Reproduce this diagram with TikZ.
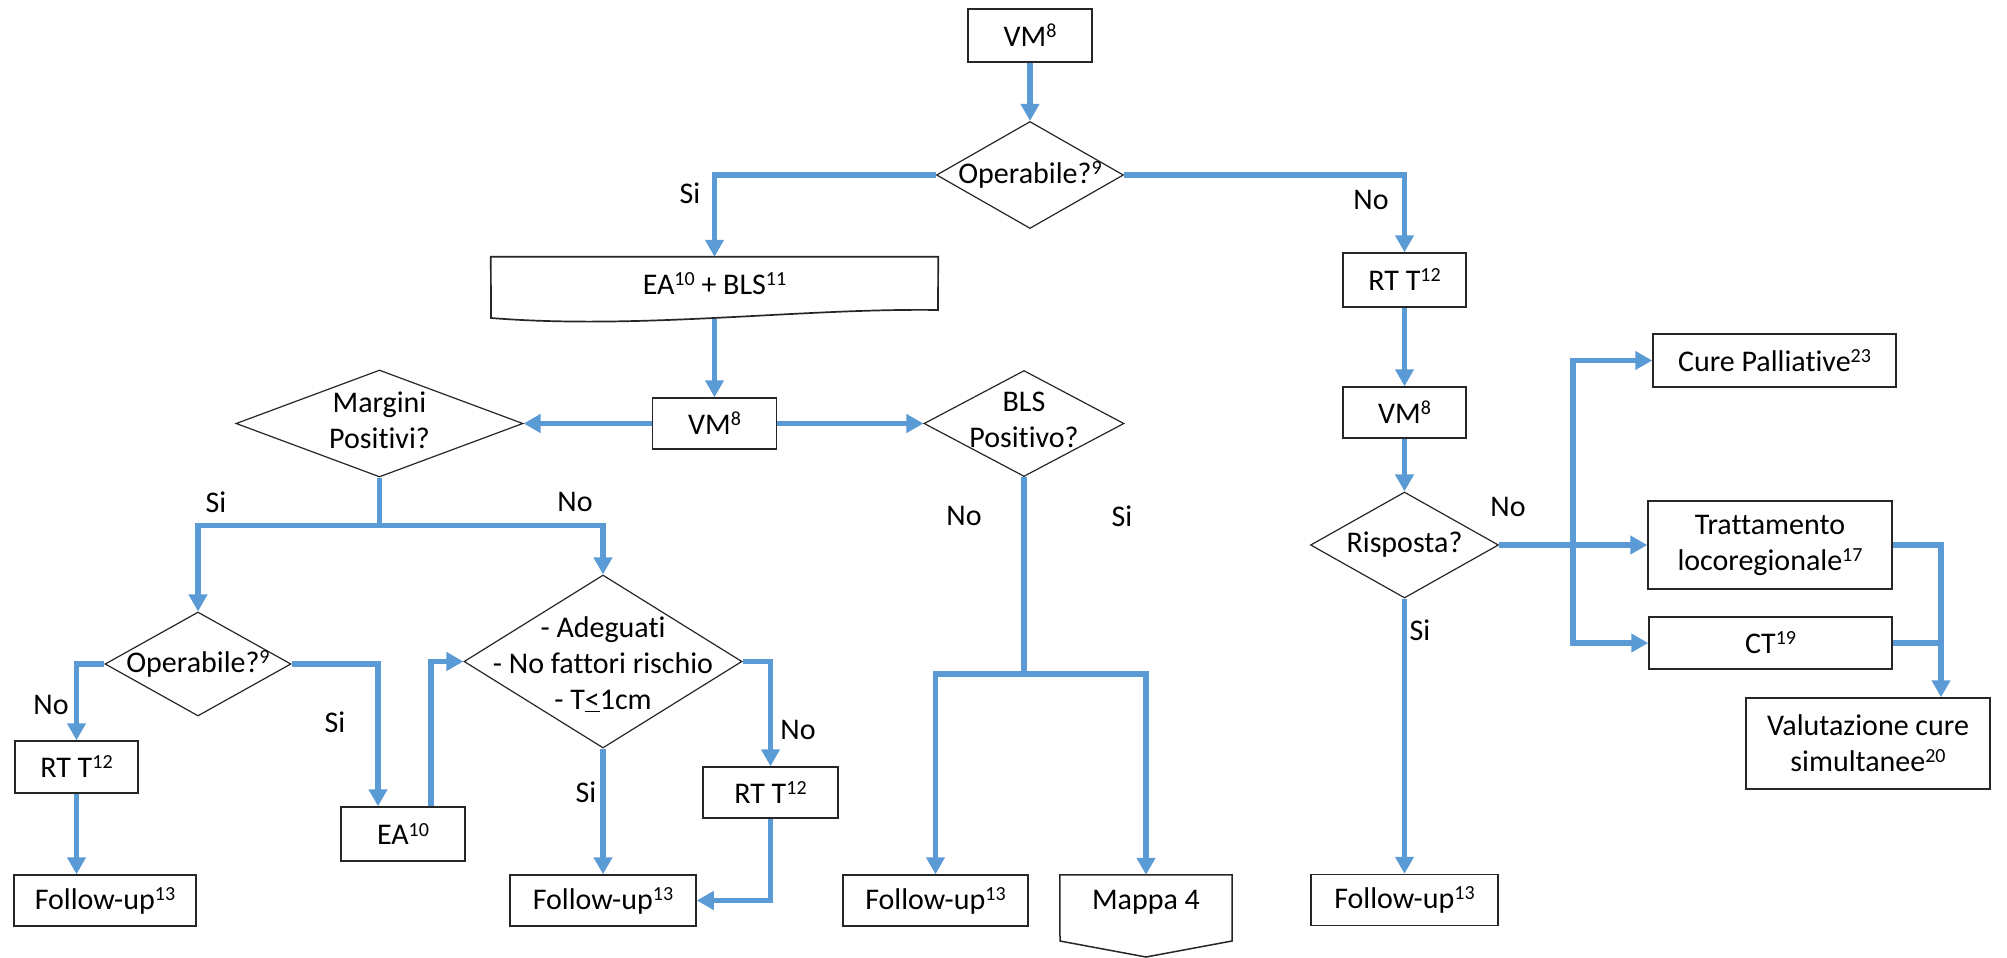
\documentclass[tikz,border=0pt]{standalone}
\usepackage{fontspec}
\setmainfont{Carlito}[RawFeature={-liga;-dlig;-calt;-clig}]
\usetikzlibrary{shapes.geometric,arrows.meta}
\definecolor{flowblue}{RGB}{91,155,213}
% raised note numbers after the step names
\newcommand\sps[1]{\raisebox{9pt}{\fontsize{20}{20}\selectfont #1}}

\begin{document}
\begin{tikzpicture}[x=1pt,y=-1pt,
  every node/.style={font=\fontsize{30}{36}\selectfont, inner sep=0pt, align=center},
  box/.style={draw=black!85, line width=1.5pt, rectangle},
  dec/.style={draw=black!85, line width=1.2pt, diamond},
  conn/.style={draw=flowblue, line width=5.5pt},
  arr/.style={conn, -{Triangle[length=17pt,width=18pt]}}]

\path[use as bounding box, fill=white] (0,0) rectangle (2007,958);

% ---------- top: first visit and operability ----------
\node[box, minimum width=124, minimum height=53] (vm1) at (1030,35.5) {VM\sps{8}};
\node[dec, minimum width=187, minimum height=107] (op1) at (1030,175) {};
\node at (op1) {Operabile?\sps{9}};

% surgery + biopsy (document shape)
\node[minimum width=447, minimum height=53] (ea) at (714.5,283.5) {EA\sps{10} + BLS\sps{11}};
\draw[draw=black!85, line width=1.7pt] (ea.north west) -- (ea.north east) -- (938,310)
  .. controls (800,308) and (640,330) .. (491,318) -- cycle;
\coordinate (eab) at (714.5,319);

% ---------- middle-left branch ----------
\node[box, minimum width=124, minimum height=51] (vm2) at (714.5,423.5) {VM\sps{8}};
\node[dec, minimum width=287, minimum height=107] (marg) at (379.5,423.5) {};
\node at (379.5,420) {Margini\\Positivi?};
\node[dec, minimum width=200, minimum height=106] (bls) at (1024,423.5) {};
\node at (1024,420) {BLS\\Positivo?};

\node[dec, minimum width=186, minimum height=104] (op2) at (198,664) {};
\node at (op2) {Operabile?\sps{9}};
\node[box, minimum width=123, minimum height=52] (rt2) at (76.5,767) {RT T\sps{12}};
\node[box, minimum width=182, minimum height=51] (fu1) at (105,900.5) {Follow-up\sps{13}};
\node[box, minimum width=124, minimum height=54] (ea2) at (403,834) {EA\sps{10}};

\node[dec, minimum width=278, minimum height=173] (adeg) at (603,661.5) {};
\node at (603,664) {- Adeguati\\- No fattori rischio\\- T\underline{<}1cm};
\node[box, minimum width=135, minimum height=51] (rt3) at (770.5,792.5) {RT T\sps{12}};
\node[box, minimum width=186, minimum height=51] (fu2) at (603,900.5) {Follow-up\sps{13}};

\node[box, minimum width=185, minimum height=51] (fu3) at (935.5,900.5) {Follow-up\sps{13}};
\node[minimum width=172, minimum height=54] (mappa) at (1146,902) {Mappa 4};
\draw[draw=black!85, line width=1.5pt] (mappa.north west) -- (mappa.north east)
  -- (1232,941) -- (1146,957) -- (1060,941) -- cycle;

% ---------- right branch: not operable ----------
\node[box, minimum width=123, minimum height=54] (rt1) at (1404.5,280) {RT T\sps{12}};
\node[box, minimum width=123, minimum height=51] (vm3) at (1404.5,412.5) {VM\sps{8}};
\node[dec, minimum width=188, minimum height=106] (risp) at (1404.5,545) {};
\node at (risp) {Risposta?};
\node[box, minimum width=187, minimum height=51] (fu4) at (1404.5,900) {Follow-up\sps{13}};

\node[box, minimum width=243, minimum height=53] (cp) at (1774.5,360.5) {Cure Palliative\sps{23}};
\node[box, minimum width=244, minimum height=88] (trat) at (1770,545) {Trattamento\\locoregionale\sps{17}};
\node[box, minimum width=243, minimum height=52] (ct) at (1770.5,643) {CT\sps{19}};
\node[box, minimum width=244, minimum height=91] (valu) at (1868,743.5) {Valutazione cure\\simultanee\sps{20}};

% ---------- connectors ----------
\draw[arr] (vm1) -- (op1);
\draw[arr] (op1.west) -| (ea.north);
\draw[arr] (op1.east) -| (rt1.north);
\draw[arr] (eab) -- (vm2.north);
\draw[arr] (vm2.west) -- (marg.east);
\draw[arr] (vm2.east) -- (bls.west);

\draw[conn] (marg.south) -- ++(0,48) coordinate (mj);
\draw[arr] (mj) -| (op2.north);
\draw[arr] (mj) -| (adeg.north);

\draw[arr] (op2.west) -| (rt2.north);
\draw[arr] (rt2.south) -- (rt2.south |- fu1.north);
\draw[arr] (op2.east) -| ([xshift=-25pt]ea2.north);
\draw[arr] ([xshift=28pt]ea2.north) |- (adeg.west);
\draw[arr] (adeg.south) -- (fu2.north);
\draw[arr] (adeg.east) -| (rt3.north);
\draw[arr] (rt3.south) |- (fu2.east);

\draw[conn] (bls.south) -- ++(0,197) coordinate (bj);
\draw[arr] (bj) -| (fu3.north);
\draw[arr] (bj) -| (mappa.north);

\draw[arr] (rt1) -- (vm3);
\draw[arr] (vm3) -- (risp);
\draw[arr] (risp.south) -- (fu4.north);
\draw[arr] (risp.east) -- (trat.west);
\coordinate (vx) at (1573,545);
\draw[arr] (vx) |- (cp.west);
\draw[arr] (vx) |- (ct.west);
\coordinate (vj) at ([xshift=73pt]valu.north);
\draw[arr] (trat.east) -| (vj);
\draw[conn] (ct.east) -- (ct.east -| vj);

% ---------- branch labels ----------
\node at (690,193) {Si};
\node at (1371,200) {No};
\node at (216,502) {Si};
\node at (575,502) {No};
\node at (51,705) {No};
\node at (335,722) {Si};
\node at (586,792) {Si};
\node at (798,730) {No};
\node at (964,516) {No};
\node at (1122,516) {Si};
\node at (1508,507) {No};
\node at (1420,630) {Si};
\end{tikzpicture}
\end{document}
